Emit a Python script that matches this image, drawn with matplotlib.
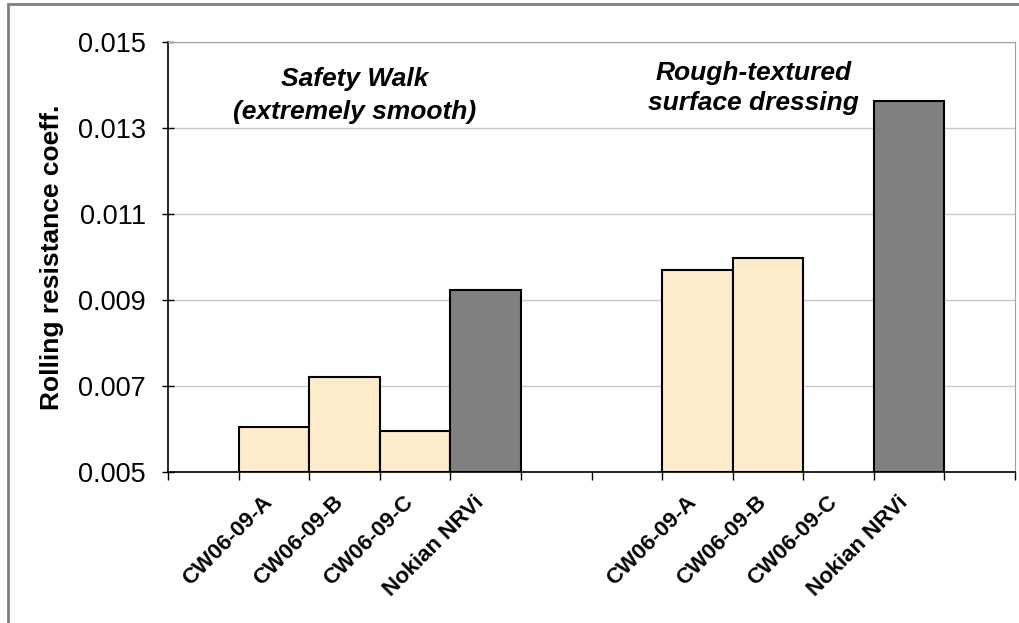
import numpy as np
import matplotlib.pyplot as plt
from matplotlib.patches import Rectangle

plt.rcParams['font.family'] = ['Liberation Sans', 'DejaVu Sans']

tyres = ["CW06-09-A", "CW06-09-B", "CW06-09-C", "Nokian NRVi"]
safety_walk = [0.00605, 0.00721, 0.00595, 0.00923]
rough_dressing = [0.00970, 0.00998, np.nan, 0.01363]
yticks = [0.005, 0.007, 0.009, 0.011, 0.013, 0.015]

light = "#fdeccb"
dark = "#808080"
colors = [light, light, light, dark]

fig = plt.figure(figsize=(10.19, 6.23), dpi=100)
ax = fig.add_axes([168 / 1019, 1 - 472 / 623, 847 / 1019, 430 / 623])

# frame around the whole figure
fig.patches.append(Rectangle((7.5 / 1019, -0.05), 1.1, 1 - 3.5 / 623 + 0.05,
                             transform=fig.transFigure, fill=False,
                             edgecolor="#808080", lw=2))

x1 = np.arange(1, 5)
x2 = np.arange(7, 11)
base = 0.005
ax.bar(x1, np.array(safety_walk) - base, bottom=base, width=1.0,
       color=colors, edgecolor="black", lw=1.5, zorder=3)
ax.bar(x2, np.array(rough_dressing) - base, bottom=base, width=1.0,
       color=colors, edgecolor="black", lw=1.5, zorder=3)

ax.set_xlim(-0.5, 11.5)
ax.set_ylim(0.005, 0.015)
ax.set_yticks(yticks)
ax.set_yticklabels([f"{t:.3f}" for t in yticks], fontsize=19.5)
ax.yaxis.grid(True, color="#c8c8c8", lw=1, zorder=0)

# labels sit a little left of the bar centres, like the original
ax.set_xticks(np.concatenate([x1, x2]) - 0.17)
ax.set_xticklabels(tyres + tyres, rotation=45, ha="right",
                   rotation_mode="anchor", fontsize=16, fontweight="bold")
ax.set_xticks(np.arange(-0.5, 12, 1), minor=True)
ax.tick_params(axis="x", which="major", length=0, pad=14)
ax.tick_params(axis="x", which="minor", length=6, width=1, direction="out")
ax.tick_params(axis="y", length=8, width=1, direction="inout", pad=12)

ax.set_ylabel("Rolling resistance coeff.", fontsize=19, fontweight="bold",
              labelpad=10)

for side in ["top", "right"]:
    ax.spines[side].set_color("#a0a0a0")
for side in ["left", "bottom"]:
    ax.spines[side].set_color("black")
    ax.spines[side].set_linewidth(1.2)

ax.text(2.15, 0.013756, "Safety Walk\n(extremely smooth)", ha="center", va="center",
        fontsize=19, fontweight="bold", style="italic", linespacing=1.45)
ax.text(7.8, 0.01393, "Rough-textured\nsurface dressing", ha="center", va="center",
        fontsize=19, fontweight="bold", style="italic", linespacing=1.35)

fig.savefig("out.png", dpi=100)
